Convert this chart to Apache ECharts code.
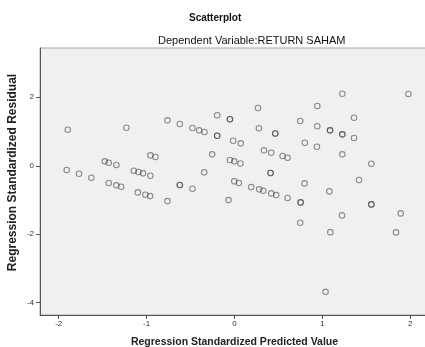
<!DOCTYPE html>
<html>
<head>
<meta charset="utf-8">
<script src="https://cdn.jsdelivr.net/npm/echarts@6/dist/echarts.min.js"></script>
<style>
  html, body { margin: 0; padding: 0; background: #fff; }
  #chart { width: 425px; height: 347px; }
</style>
</head>
<body>
<div id="chart"></div>
<script>
// predicted value (x) and residual (y)
var predicted = [
    -1.897, -1.230, -0.763, -0.622, -0.478, -0.402, -0.342, -0.197, -0.052, -0.197,
    -0.015, 0.071, -0.957, -0.900, -0.254, -1.476, -1.431, -1.344, -1.909, -1.769,
    -1.629, -1.146, -1.093, -1.040, -0.957, -0.345, -0.052, -0.003, 0.068, -1.431,
    -1.344, -1.290, -0.622, -0.478, -0.003, 0.050, -1.100, -1.014, -0.960, -0.763,
    -0.068,
    1.227, 1.978, 0.267, 0.942, 0.748, 1.360, 0.278, 0.464, 0.942, 1.087,
    1.227, 1.360, 0.800, 0.938, 0.335, 0.418, 0.547, 0.604, 1.227, 1.557,
    0.410, 1.417, 0.190, 0.281, 0.327, 0.418, 0.475, 0.604, 0.797, 1.079,
    0.752, 1.557, 0.748, 1.223, 1.090, 1.891, 1.838, 1.036,
    // overlapping cases (drawn darker)
    -0.197, -0.622, 0.464, 1.227, 0.410, 0.752, 1.557, -0.052, 1.087
];
var residual = [
    1.053, 1.111, 1.327, 1.219, 1.102, 1.035, 0.985, 1.474, 1.357, 0.877,
    0.731, 0.655, 0.304, 0.254, 0.333, 0.129, 0.088, 0.020, -0.126, -0.234,
    -0.351, -0.146, -0.184, -0.222, -0.292, -0.193, 0.167, 0.129, 0.064, -0.506,
    -0.573, -0.614, -0.564, -0.673, -0.456, -0.506, -0.778, -0.848, -0.886, -1.032,
    -1.003,
    2.105, 2.096, 1.687, 1.746, 1.307, 1.404, 1.094, 0.942, 1.152, 1.035,
    0.918, 0.810, 0.673, 0.556, 0.450, 0.380, 0.284, 0.234, 0.333, 0.058,
    -0.213, -0.418, -0.623, -0.690, -0.731, -0.807, -0.857, -0.944, -0.515, -0.749,
    -1.070, -1.129, -1.667, -1.450, -1.939, -1.392, -1.947, -3.684,
    0.877, -0.564, 0.942, 0.918, -0.213, -1.070, -1.129, 1.357, 1.035
];
var xTicks = [-2, -1, 0, 1, 2];
var yTicks = [-4, -2, 0, 2];

var points = [];
for (var i = 0; i < predicted.length; i++) {
    points.push([predicted[i], residual[i]]);
}

var chart = echarts.init(document.getElementById('chart'));
var font = 'Liberation Sans, Arial, sans-serif';

chart.setOption({
    animation: false,
    backgroundColor: '#ffffff',
    graphic: [
        { type: 'text', left: 189, top: 13,
          style: { text: 'Scatterplot', font: 'bold 10px ' + font, fill: '#111' } },
        { type: 'text', left: 158, top: 35,
          style: { text: 'Dependent Variable:RETURN SAHAM', font: '11px ' + font, fill: '#111' } }
    ],
    grid: {
        left: 40, top: 48, right: -4, bottom: 32,
        outerBoundsMode: 'none', containLabel: false,
        show: true, backgroundColor: '#f0f0f0', borderColor: '#a8a8a8', borderWidth: 1
    },
    xAxis: {
        type: 'value', min: -2.213, max: 2.213,
        name: 'Regression Standardized Predicted Value',
        nameLocation: 'middle', nameGap: 22,
        nameTextStyle: { fontFamily: font, fontWeight: 'bold', fontSize: 10.5, color: '#222' },
        axisLine: { show: true, onZero: false, lineStyle: { color: '#555', width: 1 } },
        axisTick: { show: true, length: 4, customValues: xTicks, lineStyle: { color: '#555' } },
        axisLabel: { customValues: xTicks, fontFamily: font, fontSize: 8, color: '#333', margin: 5 },
        splitLine: { show: false }
    },
    yAxis: {
        type: 'value', min: -4.36, max: 3.44,
        name: 'Regression Standardized Residual',
        nameLocation: 'middle', nameGap: 21, nameMoveOverlap: false,
        nameTextStyle: { fontFamily: font, fontWeight: 'bold', fontSize: 12, color: '#222',
                         padding: [0, 0, 0, 18] },
        axisLine: { show: true, onZero: false, lineStyle: { color: '#555', width: 1 } },
        axisTick: { show: true, length: 4, customValues: yTicks, lineStyle: { color: '#555' } },
        axisLabel: { customValues: yTicks, fontFamily: font, fontSize: 8, color: '#333', margin: 6 },
        splitLine: { show: false }
    },
    series: [{
        type: 'scatter',
        data: points,
        symbol: 'circle',
        symbolSize: 5.5,
        itemStyle: { color: 'rgba(0,0,0,0)', borderColor: 'rgba(60,60,60,0.7)', borderWidth: 1.1 }
    }]
});
</script>
</body>
</html>
